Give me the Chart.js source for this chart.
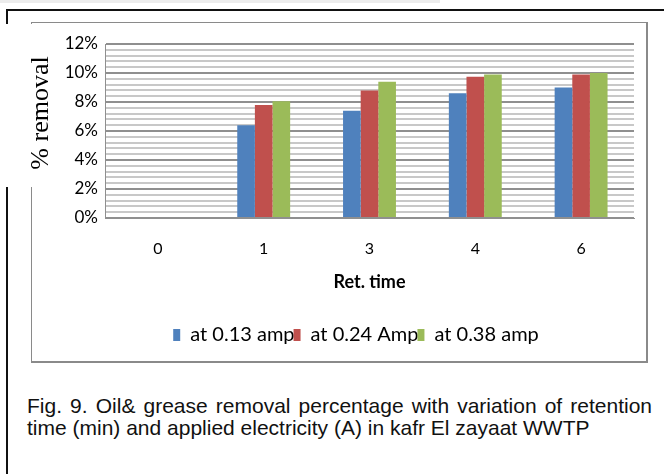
<!DOCTYPE html>
<html>
<head>
<meta charset="utf-8">
<script src="https://cdn.jsdelivr.net/npm/chart.js@4.4.1/dist/chart.umd.min.js"></script>
<style>
  html, body { margin: 0; padding: 0; background: #fff; }
  #page { position: relative; width: 664px; height: 474px; overflow: hidden; background: #fff; }
  .blk { position: absolute; background: #111; }
  #box { position: absolute; left: 31px; top: 22px; width: 614px; height: 338px;
         border-top: 1px solid #8a8a8a; border-left: 1px solid #8a8a8a;
         border-right: 2px solid #8a8a8a; border-bottom: 2px solid #8a8a8a; background: #fff; }
  #chart { position: absolute; left: 32px; top: 23px; }
  #cover { position: absolute; left: 0; top: 24px; width: 45px; height: 163px; background: #fff; }
  #ytitle { position: absolute; left: 40px; top: 113px; transform: translate(-50%, -50%) rotate(-90deg);
            font-family: "Liberation Serif", serif; font-size: 26px; white-space: nowrap; color: #000; }
  #caption { position: absolute; left: 27px; top: 395px; width: 625px;
             font-family: "Liberation Sans", Arial, sans-serif; font-size: 21px; line-height: 22px; color: #111; }
  #caption .l1 { text-align: justify; text-align-last: justify; white-space: nowrap; }
  #strip { position: absolute; left: 0; top: 0; width: 440px; height: 3px; background: #ececec; }
</style>
</head>
<body>
<div id="page">
  <div id="strip"></div>
  <div class="blk" style="left:7px; top:9px; width:657px; height:2px;"></div>
  <div class="blk" style="left:6px; top:9px; width:2px; height:465px;"></div>
  <div id="box"></div>
  <canvas id="chart" width="630" height="338"></canvas>
  <div id="cover"></div>
  <div id="ytitle">% removal</div>
  <div id="caption"><div class="l1">Fig. 9. Oil&amp; grease removal percentage with variation of retention</div><div>time (min) and applied electricity (A) in kafr El zayaat WWTP</div></div>
</div>
<script>
const retTimes = ["0", "1", "3", "4", "6"];
const amp013 = [0, 64, 74, 86, 90];
const amp024 = [0, 78, 88, 97.5, 99];
const amp038 = [0, 80.5, 94, 99, 100];
const seriesNames = ["at 0.13 amp", "at 0.24 Amp", "at 0.38 amp"];
const seriesColors = ["#4f81bd", "#c0504d", "#9bbb59"];

const txtFont = "Lato";

const ctx = document.getElementById("chart").getContext("2d");
new Chart(ctx, {
  type: "bar",
  data: {
    labels: retTimes,
    datasets: [amp013, amp024, amp038].map((vals, i) => ({
      label: seriesNames[i],
      data: vals,
      backgroundColor: seriesColors[i],
      borderWidth: 0,
      categoryPercentage: 0.5,
      barPercentage: 1
    }))
  },
  options: {
    responsive: false,
    animation: false,
    layout: { padding: { left: 30, right: 12, top: 21, bottom: 6 } },
    plugins: {
      tooltip: { enabled: false },
      legend: {
        position: "bottom",
        labels: {
          boxWidth: 7,
          boxHeight: 12,
          padding: -1,
          color: "#000",
          font: { family: txtFont, size: 20 }
        }
      }
    },
    scales: {
      x: {
        grid: { display: false, drawTicks: false },
        border: { color: "#8f8f8f", width: 1 },
        ticks: { color: "#000", padding: 21, font: { family: txtFont, size: 16 } },
        title: {
          display: true,
          text: "Ret. time",
          color: "#000",
          font: { family: txtFont, size: 18, weight: "bold" },
          padding: { top: 0, bottom: 33 }
        },
        afterFit: (scale) => { scale.height = 108; }
      },
      y: {
        min: 0,
        max: 120,
        border: { color: "#8f8f8f", width: 1 },
        grid: {
          drawTicks: false,
          color: (c) => (c.tick && c.tick.value % 20 === 0 ? "#8f8f8f" : "#c8c8c8"),
          lineWidth: 2
        },
        ticks: {
          stepSize: 4,
          autoSkip: false,
          padding: 7,
          color: "#000",
          font: { family: txtFont, size: 17 },
          callback: (v) => (v % 20 === 0 ? (v / 10) + "%" : "")
        },
        afterFit: (scale) => { scale.width = 43; }
      },
      // empty axis on the right, only there to push the legend centre right
      yRight: {
        type: "linear",
        position: "right",
        grid: { display: false, drawTicks: false },
        border: { display: false },
        ticks: { display: false },
        afterFit: (scale) => { scale.width = 16; }
      }
    }
  }
});
</script>
</body>
</html>
